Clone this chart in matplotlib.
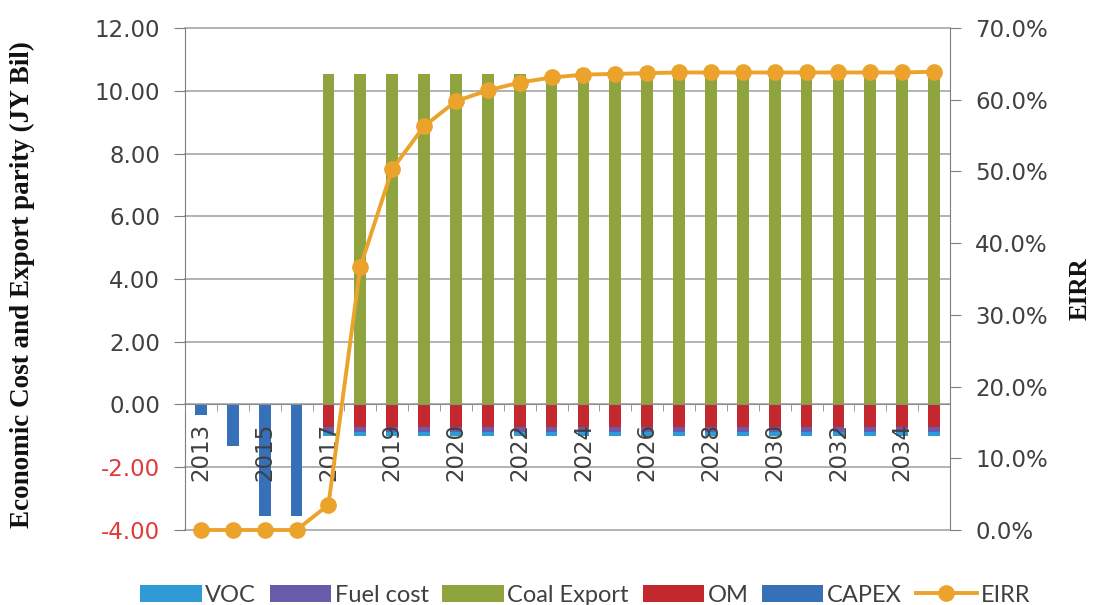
import matplotlib
matplotlib.use("Agg")
import matplotlib.pyplot as plt
import numpy as np
from matplotlib.ticker import FuncFormatter, MultipleLocator, FixedLocator

# Project years (one category per bar)
years = ["2013", "2014", "2015", "2016", "2017", "2018", "2019", "2019",
         "2020", "2021", "2022", "2023", "2024", "2025", "2026", "2027",
         "2028", "2029", "2030", "2031", "2032", "2033", "2034", "2035"]

# Economic cost and export parity (JY Bil)
voc = [0, 0, 0, 0] + [-0.12] * 20
fuel_cost = [0, 0, 0, 0] + [-0.15] * 20
coal_export = [0, 0, 0, 0] + [10.55] * 20
om = [0, 0, 0, 0] + [-0.72] * 20
capex = [-0.35, -1.32, -3.55, -3.55] + [0] * 20

# Economic internal rate of return
eirr = [0.0, 0.0, 0.0, 0.0, 0.035, 0.367, 0.503, 0.563, 0.598, 0.613,
        0.624, 0.631, 0.635, 0.636, 0.637, 0.638, 0.638, 0.638, 0.638,
        0.638, 0.638, 0.638, 0.638, 0.639]

c_voc = "#2F9AD6"
c_fuel = "#6A5BAA"
c_coal = "#8FA33E"
c_om = "#C2282E"
c_capex = "#3570B8"
c_eirr = "#EBA32C"
txt = "#404040"
grid_c = "#A6A6A6"

fig = plt.figure(figsize=(10.94, 6.05), dpi=100)
ax = fig.add_axes([0.1691, 0.124, 0.6993, 0.8297])
ax2 = ax.twinx()
ax.set_zorder(1)
ax2.set_zorder(2)
ax.patch.set_visible(False)
# Axis (tick labels) drawn over the bars; gridlines are separate lines below
ax.set_axisbelow(False)

x = np.arange(len(years))
w = 0.37

# Negative components stack downward from zero
bottom_neg = np.zeros(len(years))
handles = {}
for name, vals, col in [("OM", om, c_om), ("Fuel cost", fuel_cost, c_fuel),
                        ("VOC", voc, c_voc), ("CAPEX", capex, c_capex)]:
    v = np.array(vals, dtype=float)
    handles[name] = ax.bar(x, v, w, bottom=bottom_neg, color=col, zorder=2)
    bottom_neg += v
handles["Coal Export"] = ax.bar(x, coal_export, w, color=c_coal, zorder=2)

line, = ax2.plot(x, eirr, color=c_eirr, lw=2.8, marker="o", ms=11,
                 markeredgecolor=c_eirr, zorder=5, clip_on=False)

# Primary axis
ax.set_xlim(-0.5, len(years) - 0.5)
ax.set_ylim(-4, 12)
ax.yaxis.set_major_locator(MultipleLocator(2))
ax.yaxis.set_major_formatter(FuncFormatter(lambda v, p: f"{v:.2f}"))
for gy in np.arange(-4, 12.01, 2):
    ax.axhline(gy, color=grid_c, lw=1.2, zorder=1, clip_on=False)
ax.spines["top"].set_visible(False)
ax.spines["right"].set_visible(False)
ax.spines["left"].set_color("#7F7F7F")
ax.spines["bottom"].set_position(("data", 0))
ax.spines["bottom"].set_color("#8C8C8C")
ax.tick_params(axis="y", direction="out", length=8, color="#7F7F7F",
               labelsize=16.5, labelcolor=txt, pad=10)
for lab in ax.get_yticklabels():
    if lab.get_text().startswith("-") or lab.get_text().startswith("\u2212"):
        lab.set_color("#E03A3A")

ax.set_xticks(x[::2])
ax.set_xticklabels(years[::2], rotation=90, fontsize=16.5, color=txt)
ax.xaxis.set_minor_locator(FixedLocator(np.arange(-0.5, len(years), 1.0)))
ax.tick_params(axis="x", which="major", length=0, pad=13)
ax.tick_params(axis="x", which="minor", direction="out", length=5,
               color="#8C8C8C")

fig.text(22 / 1094, 1 - 285 / 605, "Economic Cost and Export parity (JY Bil)",
         rotation=90, ha="center", va="center", family="Liberation Serif",
         fontweight="bold", fontsize=19.5, color="#111111")

# Secondary axis for EIRR
ax2.set_ylim(0, 0.7)
ax2.yaxis.set_major_locator(MultipleLocator(0.1))
ax2.yaxis.set_major_formatter(FuncFormatter(lambda v, p: f"{v*100:.1f}%"))
for s in ["top", "left", "bottom"]:
    ax2.spines[s].set_visible(False)
ax2.spines["right"].set_color("#7F7F7F")
ax2.tick_params(axis="y", direction="out", length=8, color="#7F7F7F",
                labelsize=16.5, labelcolor=txt, pad=10)
fig.text(1080 / 1094, 1 - 289 / 605, "EIRR", rotation=90, ha="center",
         va="center", family="Liberation Serif", fontweight="bold",
         fontsize=18, color="#111111")

leg_items = [handles["VOC"], handles["Fuel cost"], handles["Coal Export"],
             handles["OM"], handles["CAPEX"], line]
leg_labels = ["VOC", "Fuel cost", "Coal Export", "OM", "CAPEX", "EIRR"]
leg = fig.legend(leg_items, leg_labels, loc="center", ncol=6,
                 bbox_to_anchor=(0.535, 0.016), frameon=False,
                 prop={"family": "Lato", "size": 17}, handlelength=2.6,
                 handleheight=0.72, handletextpad=0.15, columnspacing=0.58,
                 labelcolor=txt)

fig.savefig("out.png", dpi=100, facecolor="white")
